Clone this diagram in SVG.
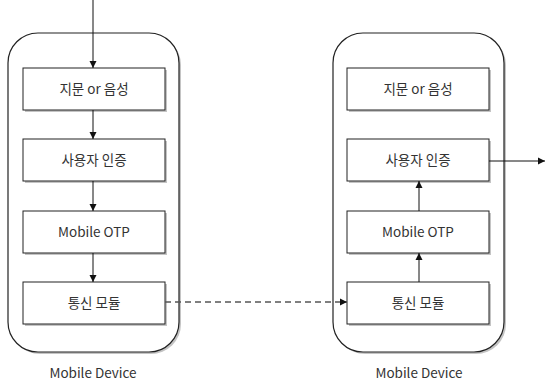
<svg xmlns="http://www.w3.org/2000/svg" width="546" height="384" viewBox="0 0 546 384">
<style>
.cont{fill:#fff;stroke:#222;stroke-width:1.2}
.box{fill:#fff;stroke:#222;stroke-width:1}
.sh{fill:#c4c4c4}
.t{font-family:"Noto Sans CJK KR","Noto Sans",sans-serif;font-size:13.5px;fill:#333;text-anchor:middle}
.c{stroke:#111;stroke-width:1;fill:none}
.d{stroke:#555;stroke-width:1.3;fill:none;stroke-dasharray:6 4}
</style>
<defs>
<marker id="ah" markerWidth="8" markerHeight="8" refX="7" refY="4" orient="auto" markerUnits="userSpaceOnUse">
<path d="M0,0.5 L7,4 L0,7.5 z" fill="#111"/>
</marker>
</defs>
<g id="device-left">
<rect x="10" y="35" width="171" height="319" rx="30" class="sh"/>
<rect x="8" y="33" width="171" height="319" rx="30" class="cont"/>
<text x="93" y="378" class="t">Mobile Device</text>
</g>
<g id="device-right">
<rect x="335" y="35" width="171" height="319" rx="30" class="sh"/>
<rect x="333" y="33" width="171" height="319" rx="30" class="cont"/>
<text x="419" y="378" class="t">Mobile Device</text>
</g>
<g id="l1"><rect x="25" y="70" width="142" height="42" class="sh"/><rect x="23" y="68" width="142" height="42" class="box"/><text x="94" y="94" class="t">지문 or 음성</text></g>
<g id="l2"><rect x="25" y="141" width="142" height="42" class="sh"/><rect x="23" y="139" width="142" height="42" class="box"/><text x="94" y="165" class="t">사용자 인증</text></g>
<g id="l3"><rect x="25" y="213" width="142" height="42" class="sh"/><rect x="23" y="211" width="142" height="42" class="box"/><text x="94" y="237" class="t">Mobile OTP</text></g>
<g id="l4"><rect x="25" y="284" width="142" height="42" class="sh"/><rect x="23" y="282" width="142" height="42" class="box"/><text x="94" y="308" class="t">통신 모듈</text></g>
<g id="r1"><rect x="349" y="70" width="142" height="42" class="sh"/><rect x="347" y="68" width="142" height="42" class="box"/><text x="418" y="94" class="t">지문 or 음성</text></g>
<g id="r2"><rect x="349" y="141" width="142" height="42" class="sh"/><rect x="347" y="139" width="142" height="42" class="box"/><text x="418" y="165" class="t">사용자 인증</text></g>
<g id="r3"><rect x="349" y="213" width="142" height="42" class="sh"/><rect x="347" y="211" width="142" height="42" class="box"/><text x="418" y="237" class="t">Mobile OTP</text></g>
<g id="r4"><rect x="349" y="284" width="142" height="42" class="sh"/><rect x="347" y="282" width="142" height="42" class="box"/><text x="418" y="308" class="t">통신 모듈</text></g>
<g id="connectors">
<path d="M93,0 V68" class="c" marker-end="url(#ah)"/>
<path d="M93,110 V139" class="c" marker-end="url(#ah)"/>
<path d="M93,181 V211" class="c" marker-end="url(#ah)"/>
<path d="M93,253 V282" class="c" marker-end="url(#ah)"/>
<path d="M165,302 H347" class="d" marker-end="url(#ah)"/>
<path d="M419,282 V253" class="c" marker-end="url(#ah)"/>
<path d="M419,211 V181" class="c" marker-end="url(#ah)"/>
<path d="M489,161 H545" class="c" marker-end="url(#ah)"/>
</g>
</svg>
